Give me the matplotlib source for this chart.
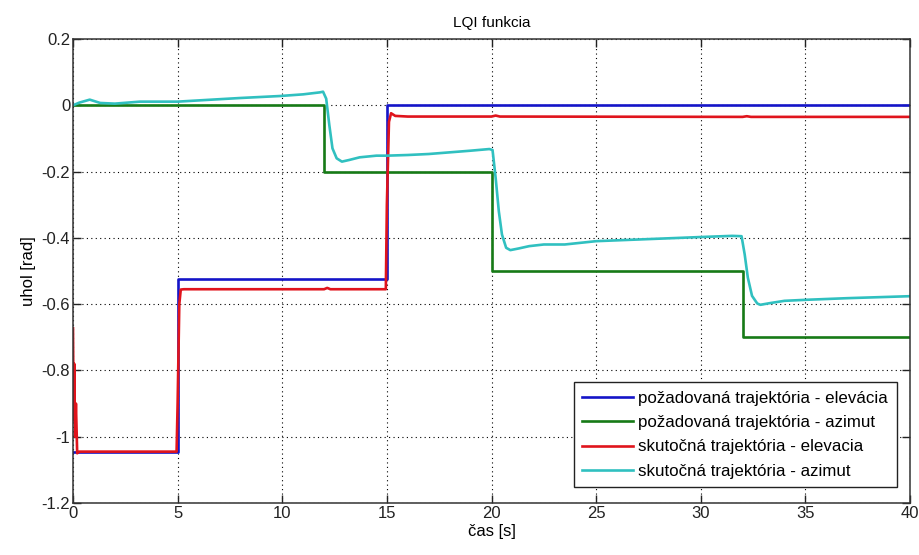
import matplotlib
matplotlib.use("Agg")
import matplotlib.pyplot as plt
from matplotlib import font_manager
from matplotlib.ticker import FixedLocator, FuncFormatter

names = {f.name for f in font_manager.fontManager.ttflist}
fam = ['Liberation Sans Narrow', 'Liberation Sans', 'DejaVu Sans']
fam = [f for f in fam if f in names] or ['DejaVu Sans']
plt.rcParams['font.family'] = fam

# ---- data ----
blue_t = [0, 5, 5, 15, 15, 40]
blue_v = [-1.047, -1.047, -0.5236, -0.5236, 0.0, 0.0]

green_t = [0, 12, 12, 20, 20, 32, 32, 40]
green_v = [0.0, 0.0, -0.2, -0.2, -0.5, -0.5, -0.7, -0.7]

red_t = [0, 0.03, 0.06, 0.1, 0.14, 0.2, 0.3, 4.95, 5.0, 5.08, 5.15, 5.3,
         12.0, 12.15, 12.3, 14.95, 15.0, 15.1, 15.2, 15.4, 16, 20.0, 20.2, 20.4,
         32.0, 32.2, 32.4, 40]
red_v = [-0.673, -0.95, -0.78, -1.0, -0.9, -1.05, -1.045, -1.045, -0.9, -0.6, -0.556, -0.555,
         -0.555, -0.551, -0.555, -0.555, -0.3, -0.05, -0.024, -0.032, -0.034, -0.034, -0.031, -0.034,
         -0.035, -0.033, -0.035, -0.035]

cyan_t = [0, 0.3, 0.8, 1.3, 2, 3.2, 5, 6.9, 8, 9.9, 11, 11.8, 11.95, 12.1, 12.25, 12.4,
          12.6, 12.85, 13.2, 13.7, 14.5, 15, 16, 17, 18, 19, 19.9, 20.05, 20.2, 20.35,
          20.5, 20.7, 20.9, 21.3, 21.8, 22.5, 23.5, 25, 27, 29, 30.2, 31.5, 31.95, 32.1,
          32.25, 32.45, 32.7, 32.85, 33.3, 34, 35, 37, 39, 40]
cyan_v = [0.0, 0.008, 0.017, 0.007, 0.005, 0.011, 0.011, 0.018, 0.022, 0.028, 0.033, 0.039,
          0.041, 0.02, -0.06, -0.13, -0.16, -0.170, -0.165, -0.157, -0.152, -0.152, -0.150,
          -0.147, -0.142, -0.137, -0.132, -0.135, -0.22, -0.32, -0.39, -0.43, -0.437, -0.432,
          -0.425, -0.42, -0.42, -0.41, -0.405, -0.40, -0.397, -0.394, -0.395, -0.45, -0.52,
          -0.575, -0.598, -0.602, -0.597, -0.59, -0.587, -0.582, -0.578, -0.576]

labels = ['požadovaná trajektória - elevácia',
          'požadovaná trajektória - azimut',
          'skutočná trajektória - elevacia',
          'skutočná trajektória - azimut']
colors = ['#1414c8', '#167a16', '#e0141c', '#30c0c0']

xticks = [0, 5, 10, 15, 20, 25, 30, 35, 40]
yticks = [-1.2, -1.0, -0.8, -0.6, -0.4, -0.2, 0.0, 0.2]

# ---- figure ----
fig = plt.figure(figsize=(9.2, 5.55), dpi=100)
ax = fig.add_axes([73/920, 52/555, 837/920, 464/555])

lw = 1.9
ax.plot(blue_t, blue_v, color=colors[0], lw=lw, label=labels[0])
ax.plot(green_t, green_v, color=colors[1], lw=lw, label=labels[1])
ax.plot(red_t, red_v, color=colors[2], lw=lw, label=labels[2])
ax.plot(cyan_t, cyan_v, color=colors[3], lw=lw, label=labels[3])

ax.set_xlim(0, 40)
ax.set_ylim(-1.2, 0.2)
ax.xaxis.set_major_locator(FixedLocator(xticks))
ax.yaxis.set_major_locator(FixedLocator(yticks))

def yfmt(v, pos):
    if abs(v) < 1e-9:
        return '0'
    s = ('%.1f' % v)
    if s.endswith('.0'):
        s = s[:-2]
    return s
ax.yaxis.set_major_formatter(FuncFormatter(yfmt))

ax.grid(True, color='black', linestyle=(0, (1, 3)), linewidth=0.8)
ax.tick_params(direction='in', top=True, right=True, length=6, width=1,
               labelsize=12, colors='#222222', pad=2)
for sp in ax.spines.values():
    sp.set_color('#333333')
    sp.set_linewidth(1.1)

ax.set_title('LQI funkcia', fontsize=11, pad=9)
ax.set_xlabel('čas [s]', fontsize=12, labelpad=2)
ax.set_ylabel('uhol [rad]', fontsize=12, labelpad=4)

leg = ax.legend(loc='lower right', bbox_to_anchor=(0.984, 0.034),
                borderaxespad=0, fontsize=12.2, frameon=True, fancybox=False,
                framealpha=1, edgecolor='#222222', handlelength=3.0,
                handletextpad=0.3, labelspacing=0.55, borderpad=0.5)
leg.get_frame().set_linewidth(1.0)

fig.savefig('out.png', dpi=100)
